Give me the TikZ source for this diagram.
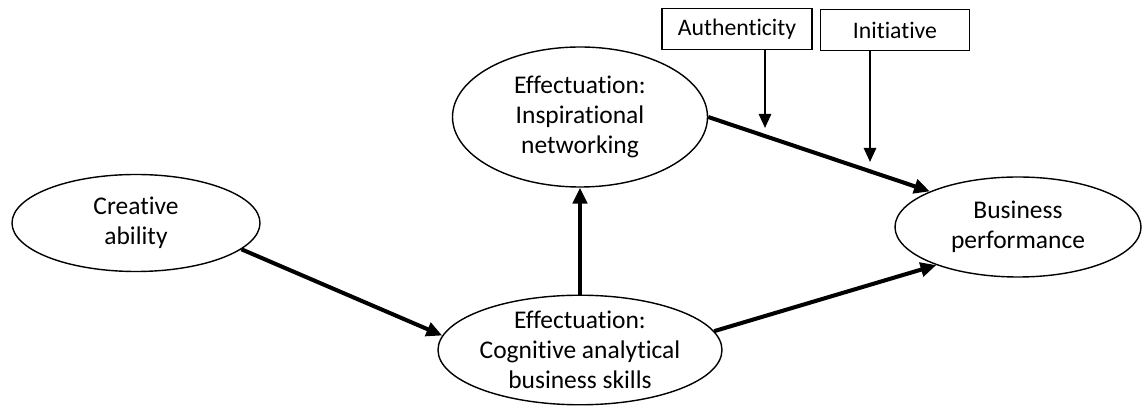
\documentclass[tikz,border=0pt]{standalone}
\usepackage{fontspec}
\setmainfont{Carlito}[Ligatures=NoCommon]
\usepackage{tikz}
\usetikzlibrary{
  positioning,
  calc,
  arrows.meta,
  shapes.geometric
}
\tikzstyle{construct}=[ellipse, draw, line width=0.8pt, inner sep=0pt, align=center, font=\fontsize{14.5}{17}\selectfont]
\tikzstyle{modbox}=[rectangle, draw, line width=0.8pt, inner sep=0pt, minimum width=3cm, minimum height=0.82cm, font=\fontsize{13.5}{15}\selectfont]
\tikzstyle{effect}=[-{Triangle[length=9pt, width=8pt]}, line width=2.3pt]
\tikzstyle{modarrow}=[-{Triangle[length=8pt, width=7pt]}, line width=1.2pt]

\begin{document}
\begin{tikzpicture}
    \useasboundingbox (0,0) rectangle (22.86,8.2);

    % 構成概念
    \node[construct, minimum width=4.96cm, minimum height=1.94cm] (creative) at (2.72,3.74) {Creative\\ability};
    \node[construct, minimum width=5.1cm, minimum height=2.8cm] (inspire) at (11.6,5.86) {Effectuation:\\Inspirational\\networking};
    \node[construct, minimum width=5.68cm, minimum height=2.08cm] (cognitive) at (11.6,1.2) {Effectuation:\\Cognitive analytical\\business skills};
    \node[construct, minimum width=4.92cm, minimum height=2.0cm] (business) at (20.36,3.66) {Business\\performance};

    % 調整変数
    \node[modbox] (authentic) at (14.74,7.62) {Authenticity};
    \node[modbox, minimum width=2.98cm] (initiative) at (17.9,7.6) {Initiative};

    % 矢印の終点
    \coordinate (authend) at (15.3,5.64);
    \coordinate (initend) at (17.4,4.96);

    % パスの描画
    \draw[effect] (creative.-14) -- (cognitive.174);
    \draw[effect] (cognitive.north) -- (inspire.south);
    \draw[effect] (inspire.east) -- (business.158);
    \draw[effect] (cognitive.8) -- (business.205);

    % 調整効果の矢印
    \draw[modarrow] (authentic.south -| authend) -- (authend);
    \draw[modarrow] (initiative.south -| initend) -- (initend);
\end{tikzpicture}
\end{document}
